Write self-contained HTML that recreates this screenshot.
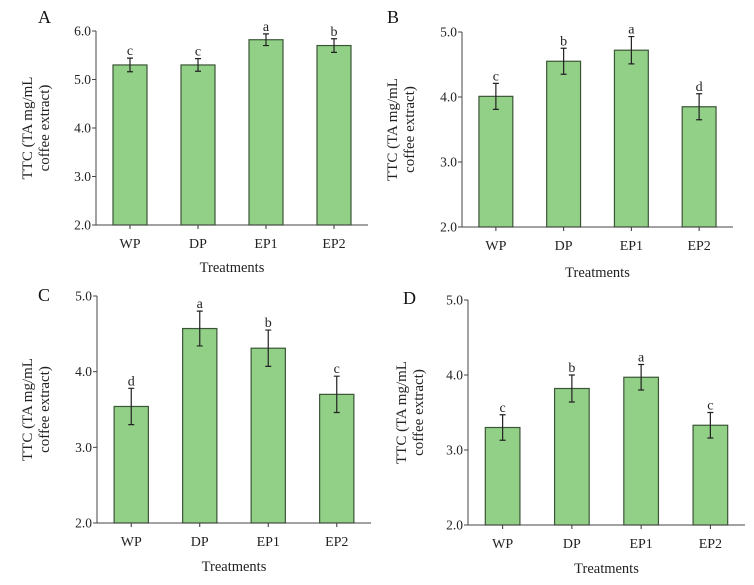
<!DOCTYPE html>
<html><head><meta charset="utf-8"><style>
html,body{margin:0;padding:0;background:#fff;}
svg{display:block;font-family:"Liberation Serif",serif;}
</style></head><body>
<svg id="fig" width="754" height="585" viewBox="0 0 754 585"></svg>
<script>
const categories = ["WP","DP","EP1","EP2"];
const valuesA = [5.30,5.30,5.82,5.70];
const errorsA = [0.14,0.13,0.12,0.14];
const lettersA = ["c","c","a","b"];
const valuesB = [4.01,4.55,4.72,3.85];
const errorsB = [0.20,0.20,0.21,0.20];
const lettersB = ["c","b","a","d"];
const valuesC = [3.54,4.57,4.31,3.70];
const errorsC = [0.24,0.23,0.24,0.24];
const lettersC = ["d","a","b","c"];
const valuesD = [3.30,3.82,3.97,3.33];
const errorsD = [0.17,0.18,0.17,0.17];
const lettersD = ["c","b","a","c"];
const ticksA = ["2.0","3.0","4.0","5.0","6.0"];
const ticksBCD = ["2.0","3.0","4.0","5.0"];

const NS="http://www.w3.org/2000/svg";
const svg=document.getElementById('fig');
function mk(tag,attrs,parent,text){const e=document.createElementNS(NS,tag);for(const k in attrs)e.setAttribute(k,attrs[k]);if(text!==undefined)e.textContent=text;parent.appendChild(e);return e;}

function panel(id,cfg,vals,errs,letters,ticks){
  const g=mk('g',{},svg);
  
  
  const ymin=parseFloat(ticks[0]),ymax=parseFloat(ticks[ticks.length-1]);
  const y=v=>cfg.y0-(v-ymin)/(ymax-ymin)*(cfg.y0-cfg.y1);
  const slot=(cfg.xEnd-cfg.ax)/categories.length;
  const xc=i=>cfg.ax+slot*(i+0.5);
  const bw=slot*0.5;
  vals.forEach((v,i)=>{
    const r=mk('rect',{x:xc(i)-bw/2,y:y(v),width:bw,height:cfg.y0-y(v),fill:'#92d088',stroke:'#3b5636','stroke-width':1.2},g);
    
    
    const e=mk('path',{d:`M${xc(i)},${y(v+errs[i])}V${y(v-errs[i])}M${xc(i)-3},${y(v+errs[i])}H${xc(i)+3}M${xc(i)-3},${y(v-errs[i])}H${xc(i)+3}`,stroke:'#222','stroke-width':1.2,fill:'none'},g);
    
    
    const l=mk('text',{x:xc(i),y:y(v+errs[i])-3,'text-anchor':'middle','font-size':14,fill:'#222'},g,letters[i]);
    
    
    const c=mk('text',{x:xc(i),y:cfg.y0+23,'text-anchor':'middle','font-size':14,fill:'#222'},g,categories[i]);
    
    
    mk('line',{x1:xc(i),x2:xc(i),y1:cfg.y0,y2:cfg.y0+4,stroke:'#333'},g);
  });
  const ax=mk('path',{d:`M${cfg.ax},${cfg.y1}V${cfg.y0}H${cfg.xEnd}`,stroke:'#444','stroke-width':1,fill:'none'},g);
  
  
  ticks.forEach(t=>{
    const v=parseFloat(t);
    mk('line',{x1:cfg.ax-4,x2:cfg.ax,y1:y(v),y2:y(v),stroke:'#444'},g);
    const tl=mk('text',{x:cfg.ax-5,y:y(v)+4.5,'text-anchor':'end','font-size':13.5,fill:'#222'},g,t);
    
    
  });
  const xt=mk('text',{x:(cfg.ax+cfg.xEnd)/2,y:cfg.tY,'text-anchor':'middle','font-size':14.5,fill:'#222'},g,'Treatments');
  
  
  const cy=(cfg.y0+cfg.y1)/2;
  const yt=mk('text',{transform:`translate(${cfg.yl},${cy}) rotate(-90)`,'text-anchor':'middle','font-size':15,fill:'#222'},g);
  
  
  mk('tspan',{x:0,y:0},yt,'TTC (TA mg/mL');
  mk('tspan',{x:0,y:17},yt,'coffee extract)');
  const pl=mk('text',{x:cfg.lx,y:cfg.ly,'font-size':18,fill:'#111'},g,id);
  
  
}
panel('A',{ax:96,xEnd:368,y0:225,y1:31,tY:272,yl:32,lx:38,ly:23},valuesA,errorsA,lettersA,ticksA);
panel('B',{ax:462,xEnd:733,y0:227,y1:32,tY:277,yl:397,lx:387,ly:23},valuesB,errorsB,lettersB,ticksBCD);
panel('C',{ax:97,xEnd:371,y0:523,y1:296,tY:571,yl:32,lx:38,ly:301},valuesC,errorsC,lettersC,ticksBCD);
panel('D',{ax:468,xEnd:745,y0:525,y1:300,tY:573,yl:406,lx:403,ly:304},valuesD,errorsD,lettersD,ticksBCD);
</script>
</body></html>
